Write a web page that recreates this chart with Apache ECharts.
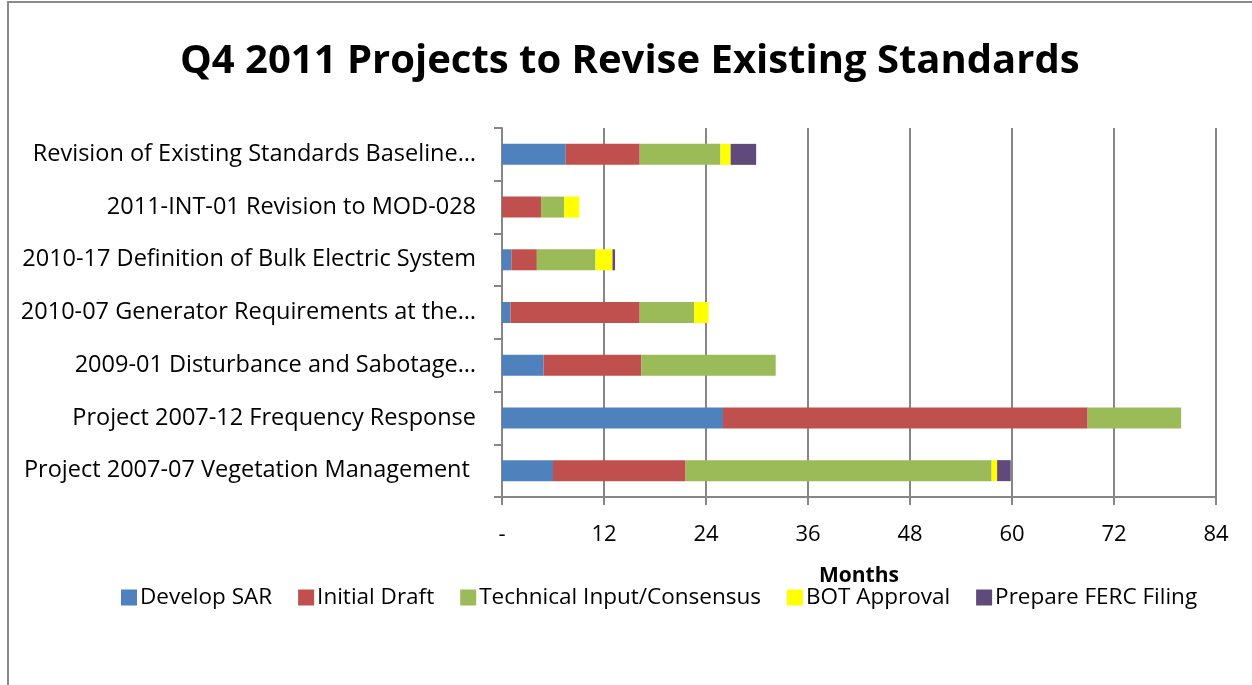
<!DOCTYPE html>
<html><head><meta charset="utf-8">
<script src="https://cdn.jsdelivr.net/npm/echarts@6/dist/echarts.min.js"></script>
<style>
html,body{margin:0;padding:0;background:#fff;}
#frame{position:absolute;left:7px;top:1px;width:1250px;height:690px;border-left:2px solid #8a8a8a;border-top:2px solid #8a8a8a;}
#c{position:absolute;left:0;top:0;width:1252px;height:685px;}
</style></head><body>
<div id="frame"></div>
<div id="c"></div>
<script>
const categories = [
  "Revision of Existing Standards Baseline…",
  "2011-INT-01 Revision to MOD-028",
  "2010-17 Definition of Bulk Electric System",
  "2010-07 Generator Requirements at the…",
  "2009-01 Disturbance and Sabotage…",
  "Project 2007-12 Frequency Response",
  "Project 2007-07 Vegetation Management "
];
const seriesNames = ["Develop SAR","Initial Draft","Technical Input/Consensus","BOT Approval","Prepare FERC Filing"];
const developSAR   = [7.5, 0,   1.1, 1.0, 4.9, 26.0, 6.0];
const initialDraft = [8.7, 4.6, 3.0, 15.2, 11.5, 42.9, 15.6];
const technical    = [9.5, 2.7, 6.9, 6.4, 15.8, 11.0, 36.0];
const botApproval  = [1.2, 1.8, 2.0, 1.7, 0, 0, 0.65];
const prepareFERC  = [3.0, 0, 0.3, 0, 0, 0, 1.6];
const xTicks = [0,12,24,36,48,60,72,84];

const colors = ["#4f81bd","#c0504d","#9bbb59","#ffff00","#604a7b"];
const values = [developSAR, initialDraft, technical, botApproval, prepareFERC];
const font = "Open Sans";
const chart = echarts.init(document.getElementById('c'));
chart.setOption({
  animation:false,
  title:{text:"Q4 2011 Projects to Revise Existing Standards",left:175,top:37,
    textStyle:{fontFamily:font,fontSize:40,fontWeight:'bold',color:'#000'}},
  legend:{bottom:71,left:116,itemWidth:16,itemHeight:16,itemGap:26,icon:'rect',
    textStyle:{fontFamily:font,fontSize:22.5,color:'#000',padding:[0,0,0,-2]},
    data:seriesNames},
  grid:{left:502,right:36,top:128,bottom:188,containLabel:false},
  xAxis:{type:'value',min:0,max:84,interval:12,
    name:'Months',nameLocation:'middle',nameGap:69,
    nameTextStyle:{fontFamily:font,fontSize:21,fontWeight:'bold',color:'#000'},
    axisLine:{show:true,lineStyle:{color:'#868686',width:2}},
    axisTick:{show:true,length:8,lineStyle:{color:'#868686',width:2}},
    axisLabel:{fontFamily:font,fontSize:22,color:'#000',margin:27,
      formatter:v=>xTicks.includes(v)?(v===0?'-':String(v)):''},
    splitLine:{show:true,lineStyle:{color:'#868686',width:2}}},
  yAxis:{type:'category',data:categories,inverse:true,
    axisLine:{show:true,lineStyle:{color:'#868686',width:2}},
    axisTick:{show:true,length:8,lineStyle:{color:'#868686',width:2}},
    axisLabel:{fontFamily:font,fontSize:23.5,color:'#000',margin:26}},
  series: seriesNames.map((n,i)=>({name:n,type:'bar',stack:'total',barWidth:21,
    itemStyle:{color:colors[i]},data:values[i]}))
});
</script>
</body></html>
